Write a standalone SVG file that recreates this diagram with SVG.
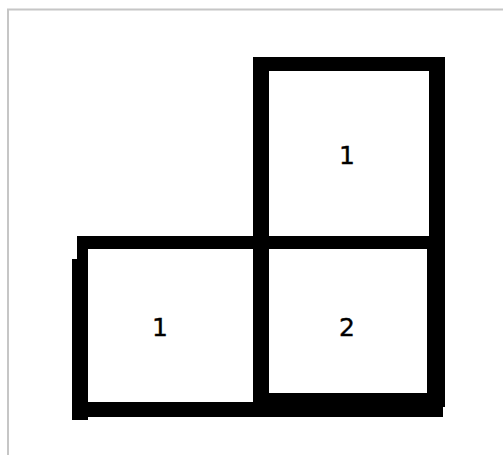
<svg xmlns="http://www.w3.org/2000/svg" width="503" height="455" viewBox="0 0 503 455">
<style>
.b{fill:#000}
.t{font-family:"DejaVu Sans",Verdana,sans-serif;font-size:25px;fill:#000;stroke:#000;stroke-width:0.4;text-anchor:middle}
</style>
<rect x="0" y="0" width="503" height="455" fill="#fff"/>
<path d="M8 456 V9.5 H504" fill="none" stroke="#c6c6c6" stroke-width="2"/>
<g id="cell-top">
<rect class="b" x="253" y="57" width="192" height="14"/>
<rect class="b" x="429" y="57" width="16" height="192"/>
<text class="t" x="347" y="164">1</text>
</g>
<g id="cell-left">
<rect class="b" x="77" y="236" width="192" height="13"/>
<rect class="b" x="77" y="236" width="11" height="181"/>
<rect class="b" x="72" y="259" width="16" height="161"/>
<rect class="b" x="72" y="402" width="197" height="15"/>
<text class="t" x="160" y="336">1</text>
</g>
<g id="cell-right">
<rect class="b" x="253" y="57" width="16" height="360"/>
<rect class="b" x="253" y="236" width="192" height="13"/>
<rect class="b" x="427" y="236" width="18" height="171"/>
<rect class="b" x="253" y="393" width="190" height="24"/>
<text class="t" x="347" y="336">2</text>
</g>
</svg>
